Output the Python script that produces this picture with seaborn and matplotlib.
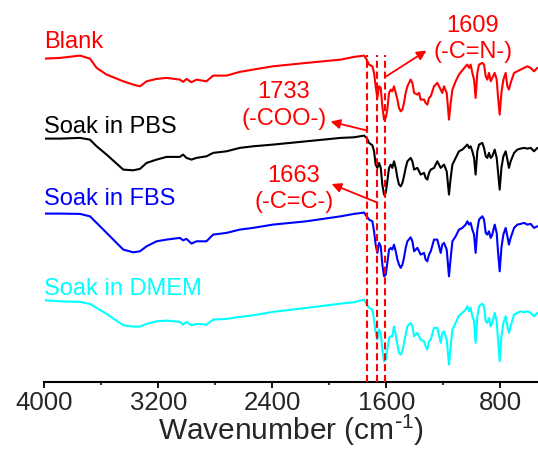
import matplotlib
matplotlib.use("Agg")
import matplotlib.pyplot as plt
import seaborn as sns
import numpy as np

# ---------------- data ----------------
# wavenumbers (cm-1), shared by all four spectra
wn_high = [3996, 3891, 3751, 3681, 3634, 3564, 3447, 3377, 3330, 3283, 3213, 3143,
           3050, 3027, 3003, 2968, 2933, 2863, 2816, 2722, 2629, 2536, 2396, 2161]
wn_low = [1920, 1827, 1756, 1738, 1721, 1698, 1686, 1675, 1663, 1651, 1639, 1628,
          1616, 1604, 1593, 1581, 1569, 1558, 1546, 1534, 1522, 1511, 1499, 1487,
          1476, 1464, 1452, 1429, 1417, 1405, 1382, 1370, 1359, 1335, 1324, 1312,
          1300, 1288, 1265, 1242, 1218, 1207, 1195, 1176, 1160, 1148, 1136, 1113,
          1090, 1066, 1043, 1031, 1019, 1008, 996, 984, 973, 961, 949, 926, 914,
          902, 891, 879, 867, 856, 839, 825, 816, 804, 792, 778, 762, 750, 739,
          727, 703, 680, 657, 633, 610, 586, 563, 540, 530]
wavenumber = wn_high + wn_low

# transmittance (a.u., stacked spectra)
blank = [323, 323.7, 326, 323, 313.7, 307, 300.3, 297, 295.3, 300.3, 302.7, 303.7,
         302, 299.7, 302.7, 299.3, 302, 300.3, 306, 306, 309.7, 312, 315.3, 318.7,
         322, 324.7, 326, 322, 317, 315.3, 308.7, 295.3, 283.7, 295.3, 293.7, 275.3,
         262, 263.7, 272, 288.7, 292, 290.3, 295.3, 288.7, 282, 273.7, 270.3, 272,
         278.7, 288.7, 295.3, 302, 298.7, 288.7, 287, 288.7, 282, 282, 278.7, 277,
         283.7, 285.3, 295.3, 298.7, 292, 288.7, 295.3, 288.7, 262, 278.7, 292, 300.3,
         307, 311.3, 315.3, 317, 313.7, 317, 308.7, 302, 283.7, 308.7, 317, 318.7, 317,
         305.3, 302, 308.7, 300.3, 303.7, 308.7, 302, 285.3, 267, 288.7, 302, 308.7,
         295.3, 292, 298.7, 308.7, 310.3, 312, 313.7, 315.3, 313.7, 310.3, 313.7, 313.7]
pbs = [243, 243, 243.7, 242, 235.3, 227, 212, 211.3, 212.7, 218.7, 222, 224.7,
       224.7, 227, 223.7, 222, 223.7, 225.3, 228.7, 230.3, 233.7, 235.3, 237, 240.3,
       243.7, 244.3, 246, 243.7, 238.7, 236.3, 230.3, 217, 213.7, 218.7, 213.7, 197,
       187, 188.7, 200.3, 213.7, 217, 213.7, 220.3, 213.7, 203.7, 197, 195.3, 198.7,
       205.3, 213.7, 220.3, 223.7, 220.3, 212, 213.7, 210.3, 207, 208.7, 203.7, 202,
       208.7, 212, 213.7, 220.3, 213.7, 215.3, 217, 210.3, 187, 203.7, 217, 223.7,
       230.3, 232, 235.3, 237, 233.7, 235.3, 230.3, 223.7, 207, 230.3, 237, 238.7,
       233.7, 225.3, 223.7, 228.7, 223.7, 225.3, 232, 223.7, 210.3, 192, 213.7, 225.3,
       230.3, 222, 213.7, 220.3, 228.7, 232, 233, 233.7, 233, 233.7, 230.3, 233.7, 233]
fbs = [168, 168, 167.7, 165.3, 158.7, 148.7, 132, 129.3, 130.3, 135.3, 140.3, 142,
       143.7, 141.3, 142.7, 138, 140.3, 140.3, 147, 148.7, 152, 153.7, 157, 160.3,
       165.3, 167.7, 169, 165.3, 162, 160.3, 150.3, 137, 128.7, 138.7, 135.3, 117,
       105.3, 107, 118.7, 132, 133.7, 132, 137, 130.3, 122, 117, 113.7, 117,
       123.7, 133.7, 140.3, 144.3, 140.3, 130.3, 133.7, 130.3, 127, 128.7, 122, 120.3,
       127, 130.3, 142, 142, 128.7, 137, 138.7, 132, 105.3, 123.7, 140.3, 145.3,
       152, 153.7, 157, 160.3, 157, 158.7, 152, 147, 128.7, 152, 162, 165.3,
       162, 148.7, 147, 150.3, 143.7, 147, 157, 148.7, 130.3, 110.3, 133.7, 147,
       153.7, 145.3, 137, 143.7, 153.7, 157, 157.7, 158.7, 157, 157.7, 153.7, 155.3, 155.3]
dmem = [81.3, 80.3, 79.7, 77.7, 73.7, 67.7, 56.3, 55, 55, 57.7, 60.3, 61,
        59.7, 57, 59.7, 56.3, 57.7, 57, 62, 62.7, 64.7, 66.3, 69.7, 73.7,
        78, 79.3, 82, 77, 73.7, 72, 62, 48.7, 42, 52, 48.7, 32,
        20.3, 22, 32, 43.7, 45.3, 45.3, 55.3, 47, 37, 28.7, 27, 30.3,
        38.7, 47, 55.3, 58.7, 55.3, 45.3, 48.7, 45.3, 42, 40.3, 35.3, 32,
        40.3, 42, 53.7, 53.7, 38.7, 48.7, 50.3, 42, 17, 35.3, 52, 58.7,
        66, 68.7, 72, 75.3, 70.3, 73.7, 65.3, 60.3, 38.7, 65.3, 75.3, 78,
        75.3, 60.3, 58.7, 63.7, 55.3, 58.7, 68.7, 60.3, 42, 20.3, 45.3, 58.7,
        65.3, 55.3, 48.7, 55.3, 67, 68.7, 70.3, 69.3, 70.3, 68.7, 65.3, 68.7, 68.7]

series_names = ["Blank", "Soak in PBS", "Soak in FBS", "Soak in DMEM"]
series_values = [blank, pbs, fbs, dmem]
series_colors = ["#ff0000", "#000000", "#0000ff", "#00ffff"]
label_y = [340, 255, 183, 93]

marker_wn = [1733, 1663, 1609]
marker_text = ["1733\n(-COO-)", "1663\n(-C=C-)", "1609\n(-C=N-)"]
marker_text_pos = [(2320, 276), (2248, 192.5), (992, 342.5)]
marker_arrow_tail = [(1733, 251), (1663, 179), (1609, 304.5)]
marker_arrow_head = [(1991, 260), (1984, 197.6), (1318, 331)]

xticks_major = [4000, 3200, 2400, 1600, 800]
xticks_minor = [3600, 2800, 2000, 1200]

# ---------------- plot ----------------
sns.set_style("white")
plt.rcParams["font.family"] = ["Liberation Sans", "DejaVu Sans"]
plt.rcParams["mathtext.default"] = "regular"

W, H = 538, 450
fig = plt.figure(figsize=(W / 100, H / 100), dpi=100)
ax = fig.add_axes([44.5 / W, (H - 381.6) / H, 1 - 44.5 / W, 381.6 / H])

for name, vals, col in zip(series_names, series_values, series_colors):
    sns.lineplot(x=wavenumber, y=vals, color=col, lw=1.5, ax=ax, sort=False,
                 estimator=None)

for wnv in marker_wn:
    ax.plot([wnv, wnv], [0, 327], color="#ff0000", lw=1.5, ls=(0, (3.4, 1.8)),
            zorder=5)

for txt, pos, tail, head in zip(marker_text, marker_text_pos, marker_arrow_tail,
                                marker_arrow_head):
    ax.text(pos[0], pos[1], txt, color="#ff0000", fontsize=17, ha="center",
            va="center", linespacing=1.25)
    ax.annotate("", xy=head, xytext=tail,
                arrowprops=dict(arrowstyle="-|>", color="#ff0000", lw=1.3,
                                mutation_scale=14, shrinkA=0, shrinkB=0))

for name, ly, col in zip(series_names, label_y, series_colors):
    ax.text(4000, ly, name, color=col, fontsize=17, ha="left", va="center")

ax.set_xlim(4000, 535)
ax.set_ylim(0, 381.6)
ax.set_xticks(xticks_major)
ax.set_xticklabels([str(t) for t in xticks_major])
ax.set_xticks(xticks_minor, minor=True)
ax.set_yticks([])
for s in ["left", "top", "right"]:
    ax.spines[s].set_visible(False)
ax.spines["bottom"].set_linewidth(1.5)
ax.spines["bottom"].set_color("black")
ax.tick_params(axis="x", which="major", direction="out", length=4, width=1.3,
               labelsize=18.5, pad=2.5, bottom=True, color="black")
ax.tick_params(axis="x", which="minor", direction="out", length=2.5, width=1.1,
               bottom=True, color="black")
ax.set_xlabel("Wavenumber (cm$^{\\text{-}1}$)", fontsize=21.5, labelpad=-1)
ax.set_ylabel("")

fig.savefig("out.png", dpi=100)
